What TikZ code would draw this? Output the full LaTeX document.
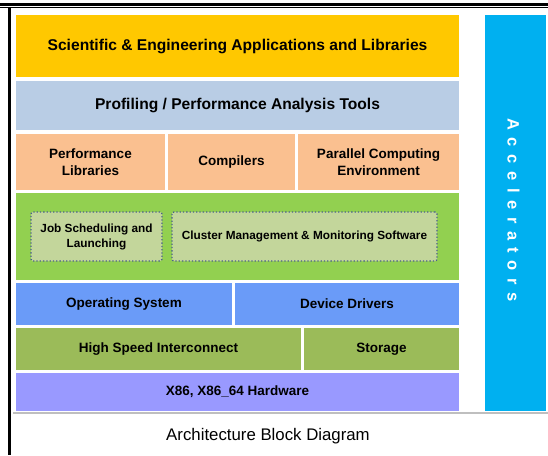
\documentclass[tikz,border=0pt]{standalone}
\usepackage{fontspec}
\setmainfont{Liberation Sans}
\usetikzlibrary{positioning}
\definecolor{sciyellow}{HTML}{FFC800}
\definecolor{profblue}{HTML}{B9CDE5}
\definecolor{liborange}{HTML}{FAC090}
\definecolor{mwgreen}{HTML}{92D050}
\definecolor{subgreen}{HTML}{C3D69B}
\definecolor{dotblue}{HTML}{4A6289}
\definecolor{osblue}{HTML}{6A9BF8}
\definecolor{netolive}{HTML}{9BBB59}
\definecolor{hwviolet}{HTML}{9999FF}
\definecolor{accblue}{HTML}{00B0F0}
\tikzset{
	layer/.style={inner sep=0pt, align=center, text=black,
		font=\bfseries\fontsize{13.5}{17}\selectfont},
	sublayer/.style={layer, draw=dotblue, dotted, line width=1.3pt, fill=subgreen,
		rounded corners=2pt, font=\bfseries\fontsize{11.8}{15}\selectfont},
}

\begin{document}
\begin{tikzpicture}[x=1pt,y=-1pt]
	\useasboundingbox[fill=white] (0,0) rectangle (548,455);
	% frame
	\draw[line width=3pt] (0,4.5) -- (548,4.5);
	\draw[line width=0.8pt] (0,7.4) -- (548,7.4);
	\draw[line width=2.5pt] (9.7,7) -- (9.7,455);
	\draw[black!25, line width=1.5pt] (13,413) -- (548,413);
	
	% stack
	\node[layer, fill=sciyellow, minimum width=443pt, minimum height=62pt,
		font=\bfseries\fontsize{15.6}{18}\selectfont] (sci) at (237.5,46) {Scientific \& Engineering Applications and Libraries};
	\node[layer, fill=profblue, minimum width=443pt, minimum height=49pt,
		font=\bfseries\fontsize{15.6}{18}\selectfont] (prof) at (237.5,105.5) {Profiling / Performance Analysis Tools};
	
	\node[layer, fill=liborange, minimum width=149pt, minimum height=56pt] (perflib) at (90.5,162) {Performance\\Libraries};
	\node[layer, fill=liborange, minimum width=127pt, minimum height=56pt] (compilers) at (231.5,162) {Compilers};
	\node[layer, fill=liborange, minimum width=161pt, minimum height=56pt] (pce) at (378.5,162) {Parallel Computing\\Environment};
	
	\node[layer, fill=mwgreen, minimum width=443pt, minimum height=87pt] (mw) at (237.5,236.5) {};
	\node[sublayer, minimum width=131pt, minimum height=49pt] (jobs) at (96.5,236.5) {Job Scheduling and\\Launching};
	\node[sublayer, minimum width=265pt, minimum height=49pt] (cms) at (304.5,236.5) {Cluster Management \& Monitoring Software};
	
	\node[layer, fill=osblue, minimum width=216pt, minimum height=42pt] (os) at (124,304) {Operating System};
	\node[layer, fill=osblue, minimum width=224pt, minimum height=42pt] (drivers) at (347,304) {Device Drivers};
	
	\node[layer, fill=netolive, minimum width=285pt, minimum height=42pt] (hsi) at (158.5,349) {High Speed Interconnect};
	\node[layer, fill=netolive, minimum width=155pt, minimum height=42pt] (storage) at (381.5,349) {Storage};
	
	\node[layer, fill=hwviolet, minimum width=443pt, minimum height=38pt] (hw) at (237.5,392) {X86, X86\_64 Hardware};
	
	% side bar
	\node[layer, fill=accblue, minimum width=61pt, minimum height=396pt] (acc) at (515.5,213) {};
	\node[text=white, rotate=-90, inner sep=0pt,
		font=\bfseries\fontsize{16.5}{18}\selectfont\addfontfeature{LetterSpace=46}] (acclabel) at (513.5,210) {Accelerators};
	
	\node[font=\fontsize{16.8}{20}\selectfont, inner sep=0pt] (caption) at (268,436) {Architecture Block Diagram};
\end{tikzpicture}
\end{document}
